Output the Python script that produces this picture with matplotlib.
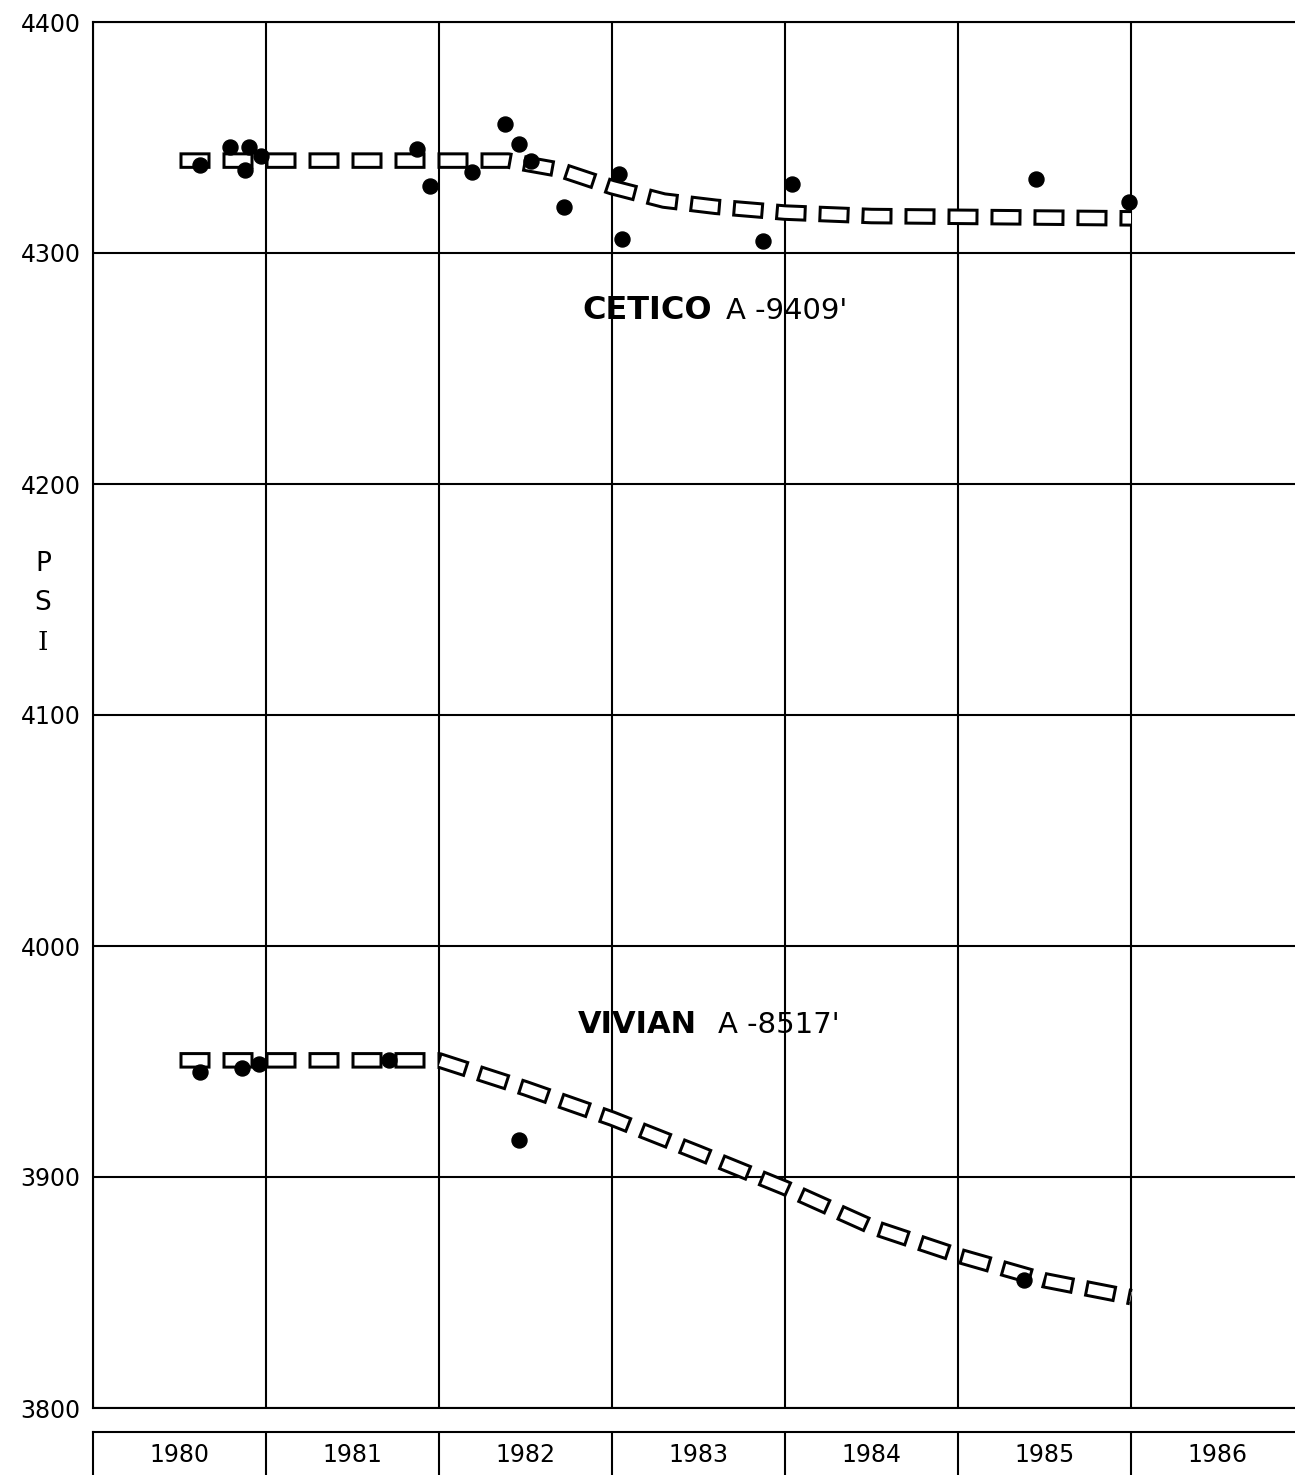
import matplotlib
matplotlib.use("Agg")
import matplotlib.pyplot as plt
import matplotlib.transforms as mtransforms

plt.rcParams['lines.scale_dashes'] = False
plt.rcParams['font.family'] = ['DejaVu Sans']

# ---- data -------------------------------------------------------------
years = [1980, 1981, 1982, 1983, 1984, 1985, 1986]
psi_ticks = [3800, 3900, 4000, 4100, 4200, 4300, 4400]

# CETICO A (-9409') measured pressures
cetico_t = [1980.62, 1980.79, 1980.90, 1980.88, 1980.97, 1981.87, 1981.95,
            1982.19, 1982.38, 1982.46, 1982.53, 1982.72, 1983.04, 1983.06,
            1983.87, 1984.04, 1985.45, 1985.99]
cetico_p = [4338, 4346, 4346, 4336, 4342, 4345, 4329,
            4335, 4356, 4347, 4340, 4320, 4334, 4306,
            4305, 4330, 4332, 4322]
# CETICO A trend band
cetico_trend_t = [1980.5, 1982.4, 1982.7, 1983.0, 1983.3, 1983.6, 1984.0, 1984.5, 1986.0]
cetico_trend_p = [4340, 4340, 4336, 4328.5, 4322.7, 4320, 4317.5, 4316, 4315]

# VIVIAN A (-8517') measured pressures
vivian_t = [1980.62, 1980.86, 1980.96, 1981.71, 1982.46, 1985.38]
vivian_p = [3945.5, 3947, 3949, 3950.5, 3916, 3855.5]
# VIVIAN A trend band
vivian_trend_t = [1980.5, 1982.0, 1982.5, 1983.0, 1983.5, 1984.0, 1984.5, 1985.0, 1985.5, 1986.0]
vivian_trend_p = [3950.5, 3950.5, 3938.4, 3925.3, 3910.5, 3895.3, 3878.5, 3866, 3855.3, 3848]

# ---- figure -----------------------------------------------------------
W, H = 1295, 1475
fig = plt.figure(figsize=(W / 100, H / 100), dpi=100)

x_left = 93 / W
y_top = 1 - 22 / H
y_bot = 1 - 1408 / H
ax = fig.add_axes([x_left, y_bot, 1 - x_left, y_top - y_bot])

x_max = 1980 + (W - 93) / 173.0
ax.set_xlim(1980, x_max)
ax.set_ylim(3800, 4400)

ax.set_xticks(years)
ax.set_xticklabels([])
ax.set_yticks(psi_ticks)
ax.set_yticklabels([str(v) for v in psi_ticks], fontsize=17)
ax.tick_params(axis='both', length=0, pad=9)
ax.grid(True, color='black', linewidth=1.5)
for side in ('left', 'top', 'bottom'):
    ax.spines[side].set_linewidth(1.5)
ax.spines['right'].set_visible(False)
ax.set_axisbelow(True)

PX = 0.72  # points per pixel


def band(t, p):
    """Hollow rectangular-dash band: black dashes with white inner dashes."""
    on, off, border, width = 31, 12, 3.0, 16.5
    period = on + off
    ax.plot(t, p, color='black', linewidth=width * PX,
            dash_capstyle='butt',
            linestyle=(0, (on * PX, off * PX)), zorder=3)
    ax.plot(t, p, color='white', linewidth=(width - 2 * border) * PX,
            dash_capstyle='butt',
            linestyle=((period - border) * PX,
                       ((on - 2 * border) * PX, (off + 2 * border) * PX)),
            zorder=4)


band(cetico_trend_t, cetico_trend_p)
band(vivian_trend_t, vivian_trend_p)

ax.plot(cetico_t, cetico_p, 'o', color='black', markersize=15 * PX, zorder=5)
ax.plot(vivian_t, vivian_p, 'o', color='black', markersize=15 * PX, zorder=5)

# series names
ax.text(1982.83, 4275, "CETICO", fontsize=23, fontweight='bold',
        ha='left', va='center', zorder=6)
ax.text(1983.66, 4275, "A -9409'", fontsize=21,
        ha='left', va='center', zorder=6)
ax.text(1982.80, 3966, "VIVIAN", fontsize=22, fontweight='bold',
        ha='left', va='center', zorder=6)
ax.text(1983.61, 3966, "A -8517'", fontsize=21,
        ha='left', va='center', zorder=6)

# vertical PSI axis label
for ch, yp, fam in (("P", 564, 'DejaVu Sans'), ("S", 603, 'DejaVu Sans'),
                    ("I", 642, 'DejaVu Serif')):
    fig.text(43 / W, 1 - yp / H, ch, fontsize=19, family=fam,
             ha='center', va='center')

# year strip below the chart
strip_top = 1 - 1432 / H
strip_bot = -0.02
ax2 = fig.add_axes([x_left, strip_bot, 1 - x_left, strip_top - strip_bot])
ax2.set_xlim(1980, x_max)
ax2.set_ylim(0, 1)
ax2.set_xticks([])
ax2.set_yticks([])
for side in ('right', 'bottom'):
    ax2.spines[side].set_visible(False)
for side in ('left', 'top'):
    ax2.spines[side].set_linewidth(1.5)
for yr in years[1:]:
    ax2.axvline(yr, color='black', linewidth=1.5)
trans = mtransforms.blended_transform_factory(ax2.transData, ax2.transAxes)
label_y = (1 - 1455 / H - strip_bot) / (strip_top - strip_bot)
for yr in years:
    ax2.text(yr + 0.5, label_y, str(yr), transform=trans, fontsize=17,
             ha='center', va='center')

fig.savefig("out.png", dpi=100, facecolor='white')
